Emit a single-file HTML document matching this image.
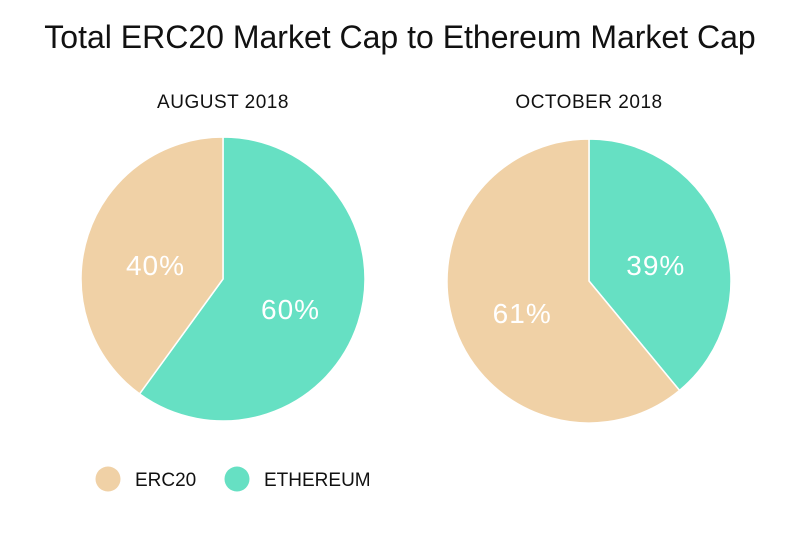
<!DOCTYPE html>
<html><head><meta charset="utf-8"><style>
body{margin:0;background:#fff;width:800px;height:529px;overflow:hidden;font-family:"Liberation Sans",sans-serif}
</style></head><body>
<svg width="800" height="529">
<text x="400" y="48" text-anchor="middle" font-size="32" fill="#111">Total ERC20 Market Cap to Ethereum Market Cap</text>
<g id="pies"></g>
<g>
<circle cx="108" cy="479" r="12.5" fill="#F0D1A6"/>
<text x="135" y="486" font-size="19" fill="#111">ERC20</text>
<circle cx="237" cy="479" r="12.5" fill="#66E0C3"/>
<text x="264" y="486" font-size="19" fill="#111">ETHEREUM</text>
</g>
</svg>
<script>
const periods = ["AUGUST 2018", "OCTOBER 2018"];
const ethereumShare = [60, 39];
const erc20Share = [40, 61];
const NS = "http://www.w3.org/2000/svg";
const g = document.getElementById("pies");
const centers = [[223, 279], [589, 281]];
const R = 142;
const colors = {eth: "#66E0C3", erc: "#F0D1A6"};
function pt(cx, cy, r, frac) { const a = frac * 2 * Math.PI - Math.PI / 2; return [cx + r * Math.cos(a), cy + r * Math.sin(a)]; }
function arc(cx, cy, f0, f1) {
  const [x0, y0] = pt(cx, cy, R, f0), [x1, y1] = pt(cx, cy, R, f1);
  return `M${cx},${cy}L${x0},${y0}A${R},${R} 0 ${f1 - f0 > 0.5 ? 1 : 0} 1 ${x1},${y1}Z`;
}
periods.forEach((p, i) => {
  const [cx, cy] = centers[i];
  const total = ethereumShare[i] + erc20Share[i];
  const fe = ethereumShare[i] / total;
  const t = document.createElementNS(NS, "text");
  t.setAttribute("x", cx); t.setAttribute("y", 108); t.setAttribute("text-anchor", "middle");
  t.setAttribute("font-size", "19"); t.setAttribute("letter-spacing", "0.5"); t.setAttribute("fill", "#111"); t.textContent = p;
  
  
  g.appendChild(t);
  const segs = [[0, fe, colors.eth, ethereumShare[i], "ethereum"], [fe, 1, colors.erc, erc20Share[i], "erc20"]];
  segs.forEach(s => {
    const path = document.createElementNS(NS, "path");
    path.setAttribute("d", arc(cx, cy, s[0], s[1]));
    path.setAttribute("fill", s[2]); path.setAttribute("stroke", "#fff"); path.setAttribute("stroke-width", "1.5");
    
    
    g.appendChild(path);
  });
  segs.forEach(s => {
    const mid = (s[0] + s[1]) / 2;
    const [lx, ly] = pt(cx, cy, R * 0.5, mid);
    const lt = document.createElementNS(NS, "text");
    lt.setAttribute("x", lx); lt.setAttribute("y", ly + 18); lt.setAttribute("text-anchor", "middle");
    lt.setAttribute("font-size", "28"); lt.setAttribute("letter-spacing", "1"); lt.setAttribute("fill", "#fff"); lt.textContent = s[3] + "%";
    
    
    g.appendChild(lt);
  });
});
</script>
</body></html>
